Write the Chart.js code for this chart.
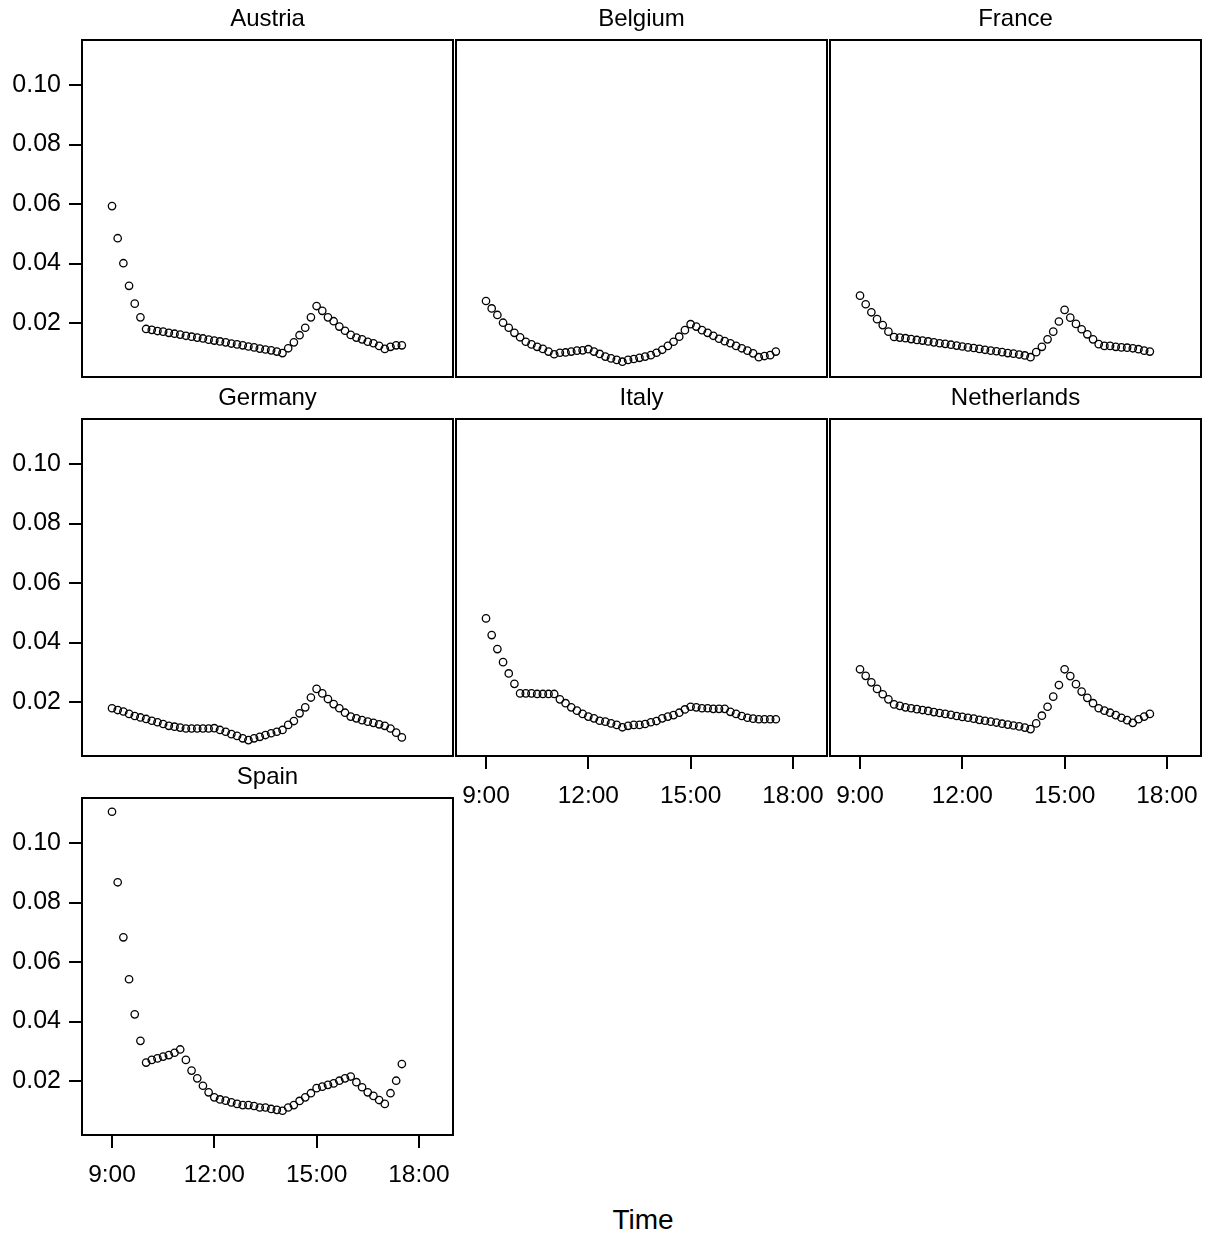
<!DOCTYPE html>
<html>
<head>
<meta charset="utf-8">
<script src="https://cdn.jsdelivr.net/npm/chart.js@4.4.1/dist/chart.umd.min.js"></script>
<style>
html,body{margin:0;padding:0;background:#fff;}
#wrap{position:relative;width:1215px;height:1238px;overflow:hidden;background:#fff;}
#wrap canvas{position:absolute;}
#xtitle{position:absolute;left:543px;width:200px;top:1206px;text-align:center;font-family:'Liberation Sans',Arial,sans-serif;font-size:28px;line-height:28px;color:#000;}
</style>
</head>
<body>
<div id="wrap"><div id="xtitle">Time</div></div>
<script>
// ---- data ----
const times = ['9:00','9:10','9:20','9:30','9:40','9:50',
  '10:00','10:10','10:20','10:30','10:40','10:50',
  '11:00','11:10','11:20','11:30','11:40','11:50',
  '12:00','12:10','12:20','12:30','12:40','12:50',
  '13:00','13:10','13:20','13:30','13:40','13:50',
  '14:00','14:10','14:20','14:30','14:40','14:50',
  '15:00','15:10','15:20','15:30','15:40','15:50',
  '16:00','16:10','16:20','16:30','16:40','16:50',
  '17:00','17:10','17:20','17:30'];

const countries = ['Austria','Belgium','France','Germany','Italy','Netherlands','Spain'];

const austria = [0.0593,0.0485,0.0401,0.0325,0.0265,0.0219,
  0.0180,0.0177,0.0173,0.0171,0.0167,0.0164,0.0161,0.0157,0.0154,0.0151,0.0148,0.0144,
  0.0141,0.0138,0.0135,0.0131,0.0128,0.0125,0.0121,0.0118,0.0114,0.0111,0.0108,0.0104,
  0.0099,0.0115,0.0135,0.0159,0.0184,0.0219,0.0257,0.0241,0.0219,0.0206,0.0188,0.0174,
  0.0160,0.0151,0.0145,0.0137,0.0132,0.0123,0.0113,0.0120,0.0125,0.0125];

const belgium = [0.0274,0.0249,0.0227,0.0201,0.0184,0.0167,0.0152,0.0137,0.0128,0.0120,
  0.0113,0.0104,0.0095,0.0100,0.0101,0.0104,0.0107,0.0108,0.0112,0.0104,
  0.0096,0.0087,0.0081,0.0076,0.0070,0.0076,0.0079,0.0083,0.0087,0.0092,
  0.0100,0.0110,0.0123,0.0137,0.0154,0.0176,0.0196,0.0188,0.0176,0.0167,
  0.0157,0.0147,0.0139,0.0132,0.0123,0.0115,0.0107,0.0098,0.0085,0.0089,
  0.0092,0.0104];

const france = [0.0292,0.0263,0.0236,0.0213,0.0193,0.0171,0.0153,
  0.0151,0.0149,0.0146,0.0143,0.0141,0.0138,0.0135,0.0132,0.0130,0.0127,0.0124,0.0121,
  0.0118,0.0116,0.0113,0.0110,0.0107,0.0105,0.0102,0.0099,0.0097,0.0094,0.0091,
  0.0085,0.0102,0.0120,0.0145,0.0171,0.0205,0.0244,0.0218,0.0197,0.0179,0.0162,0.0145,
  0.0129,0.0123,0.0123,0.0120,0.0118,0.0117,0.0115,0.0112,0.0107,0.0104];

const germany = [0.0179,0.0173,0.0168,0.0160,0.0153,0.0148,0.0143,0.0137,0.0132,0.0126,
  0.0120,0.0117,0.0114,0.0111,0.0111,0.0111,0.0111,0.0111,0.0112,0.0106,
  0.0100,0.0092,0.0086,0.0078,0.0072,0.0078,0.0083,0.0089,0.0095,0.0100,
  0.0106,0.0123,0.0136,0.0162,0.0182,0.0215,0.0244,0.0229,0.0210,0.0193,
  0.0179,0.0164,0.0151,0.0145,0.0139,0.0134,0.0130,0.0125,0.0120,0.0111,
  0.0097,0.0081];

const italy = [0.0481,0.0425,0.0378,0.0334,0.0296,0.0261,0.0229,0.0229,0.0229,0.0227,
  0.0227,0.0227,0.0227,0.0209,0.0196,0.0182,0.0171,0.0160,0.0151,0.0145,
  0.0137,0.0134,0.0128,0.0123,0.0115,0.0120,0.0123,0.0123,0.0126,0.0132,
  0.0136,0.0145,0.0151,0.0156,0.0164,0.0175,0.0184,0.0182,0.0179,0.0179,
  0.0177,0.0177,0.0177,0.0167,0.0160,0.0153,0.0147,0.0144,0.0142,0.0142,
  0.0142,0.0142];

const netherlands = [0.0310,0.0288,0.0266,0.0244,0.0226,0.0209,0.0192,0.0187,0.0182,
  0.0179,0.0176,0.0173,0.0170,0.0166,0.0163,0.0160,0.0157,0.0153,0.0150,0.0147,
  0.0144,0.0140,0.0137,0.0134,0.0131,0.0127,0.0124,0.0121,0.0118,0.0114,
  0.0109,0.0128,0.0154,0.0184,0.0218,0.0257,0.0310,0.0287,0.0260,0.0235,0.0214,
  0.0196,0.0179,0.0171,0.0164,0.0156,0.0147,0.0139,0.0130,0.0142,0.0151,0.0160];

const spain = [0.1105,0.0868,0.0683,0.0542,0.0424,0.0335,0.0262,0.0271,0.0276,0.0282,
  0.0287,0.0295,0.0306,0.0271,0.0235,0.0209,0.0184,0.0162,0.0145,0.0138,
  0.0134,0.0128,0.0123,0.0119,0.0119,0.0116,0.0111,0.0111,0.0106,0.0103,
  0.0100,0.0111,0.0119,0.0133,0.0145,0.0159,0.0176,0.0181,0.0187,0.0192,
  0.0201,0.0209,0.0215,0.0196,0.0179,0.0162,0.0150,0.0136,0.0123,0.0159,
  0.0201,0.0257];

const yTickValues = [0.02, 0.04, 0.06, 0.08, 0.10];
const yTickLabels = ['0.02', '0.04', '0.06', '0.08', '0.10'];
const xTickValues = [9, 12, 15, 18];
const xTickLabels = ['9:00', '12:00', '15:00', '18:00'];

// ---- layout ----
const FONT = "'Liberation Sans', Arial, sans-serif";
const COL_LEFT = [82, 456, 830];
const ROW_TOP = [40, 419, 798];
const PANEL_W = 371, PANEL_H = 337;
const TITLE_H = 40;
const X_MIN = 8.12, X_MAX = 19.0;
const Y_MIN = 0.00185, Y_MAX = 0.11513;

function toHours(t) {
  const p = t.split(':');
  return Number(p[0]) + Number(p[1]) / 60;
}

const borderPlugin = {
  id: 'panelBorder',
  afterDatasetsDraw(chart) {
    const a = chart.chartArea, c = chart.ctx;
    c.save();
    c.strokeStyle = '#000';
    c.lineWidth = 2;
    c.strokeRect(a.left, a.top, a.right - a.left, a.bottom - a.top);
    c.restore();
  }
};

const wrap = document.getElementById('wrap');

function zeroPad(s) {
  s.paddingLeft = 0; s.paddingRight = 0; s.paddingTop = 0; s.paddingBottom = 0;
}

function makePanel(name, values, col, row, showY, showX) {
  const axisW = showY ? 82 : 2;
  const bottomH = showX ? 60 : 4;
  const w = axisW + PANEL_W + 2;
  const h = TITLE_H + PANEL_H + bottomH;
  const cv = document.createElement('canvas');
  cv.width = w; cv.height = h;
  cv.style.width = w + 'px'; cv.style.height = h + 'px';
  cv.style.left = (COL_LEFT[col] - axisW) + 'px';
  cv.style.top = (ROW_TOP[row] - TITLE_H) + 'px';
  wrap.appendChild(cv);

  new Chart(cv.getContext('2d'), {
    type: 'scatter',
    data: {
      datasets: [{
        data: times.map((t, i) => ({ x: toHours(t), y: values[i] })),
        pointRadius: 3.7,
        pointHoverRadius: 3.7,
        pointBorderWidth: 1.3,
        borderColor: '#000',
        backgroundColor: 'rgba(0,0,0,0)',
        showLine: false
      }]
    },
    options: {
      responsive: false,
      animation: false,
      devicePixelRatio: 1,
      events: [],
      layout: { autoPadding: false, padding: { left: showY ? 0 : 2, right: 2, top: 0, bottom: showX ? 0 : 4 } },
      plugins: {
        legend: { display: false },
        tooltip: { enabled: false },
        title: {
          display: true, text: name, color: '#000', fullSize: false,
          font: { family: FONT, size: 24, weight: 'normal', lineHeight: 1.2 },
          padding: { top: 5, bottom: 6.2 }
        }
      },
      scales: {
        x: {
          type: 'linear', min: X_MIN, max: X_MAX, bounds: 'data',
          display: showX,
          afterFit: s => { s.height = showX ? 60 : 0; zeroPad(s); },
          afterBuildTicks: s => { s.ticks = xTickValues.map(v => ({ value: v })); },
          ticks: {
            autoSkip: false, maxRotation: 0, minRotation: 0, padding: 13,
            color: '#000', font: { family: FONT, size: 24.5 },
            callback: (v, i) => xTickLabels[i]
          },
          grid: { display: true, drawOnChartArea: false, drawTicks: true, tickLength: 13, lineWidth: 2, color: '#000' },
          border: { display: false }
        },
        y: {
          type: 'linear', min: Y_MIN, max: Y_MAX, bounds: 'data',
          display: showY,
          afterFit: s => { s.width = showY ? 82 : 0; zeroPad(s); },
          afterBuildTicks: s => { s.ticks = yTickValues.map(v => ({ value: v })); },
          ticks: {
            autoSkip: false, padding: 8,
            color: '#000', font: { family: FONT, size: 25 },
            callback: (v, i) => yTickLabels[i]
          },
          grid: { display: true, drawOnChartArea: false, drawTicks: true, tickLength: 13, lineWidth: 2, color: '#000' },
          border: { display: false }
        }
      }
    },
    plugins: [borderPlugin]
  });
}

makePanel(countries[0], austria, 0, 0, true, false);
makePanel(countries[1], belgium, 1, 0, false, false);
makePanel(countries[2], france, 2, 0, false, false);
makePanel(countries[3], germany, 0, 1, true, false);
makePanel(countries[4], italy, 1, 1, false, true);
makePanel(countries[5], netherlands, 2, 1, false, true);
makePanel(countries[6], spain, 0, 2, true, true);
</script>
</body>
</html>
